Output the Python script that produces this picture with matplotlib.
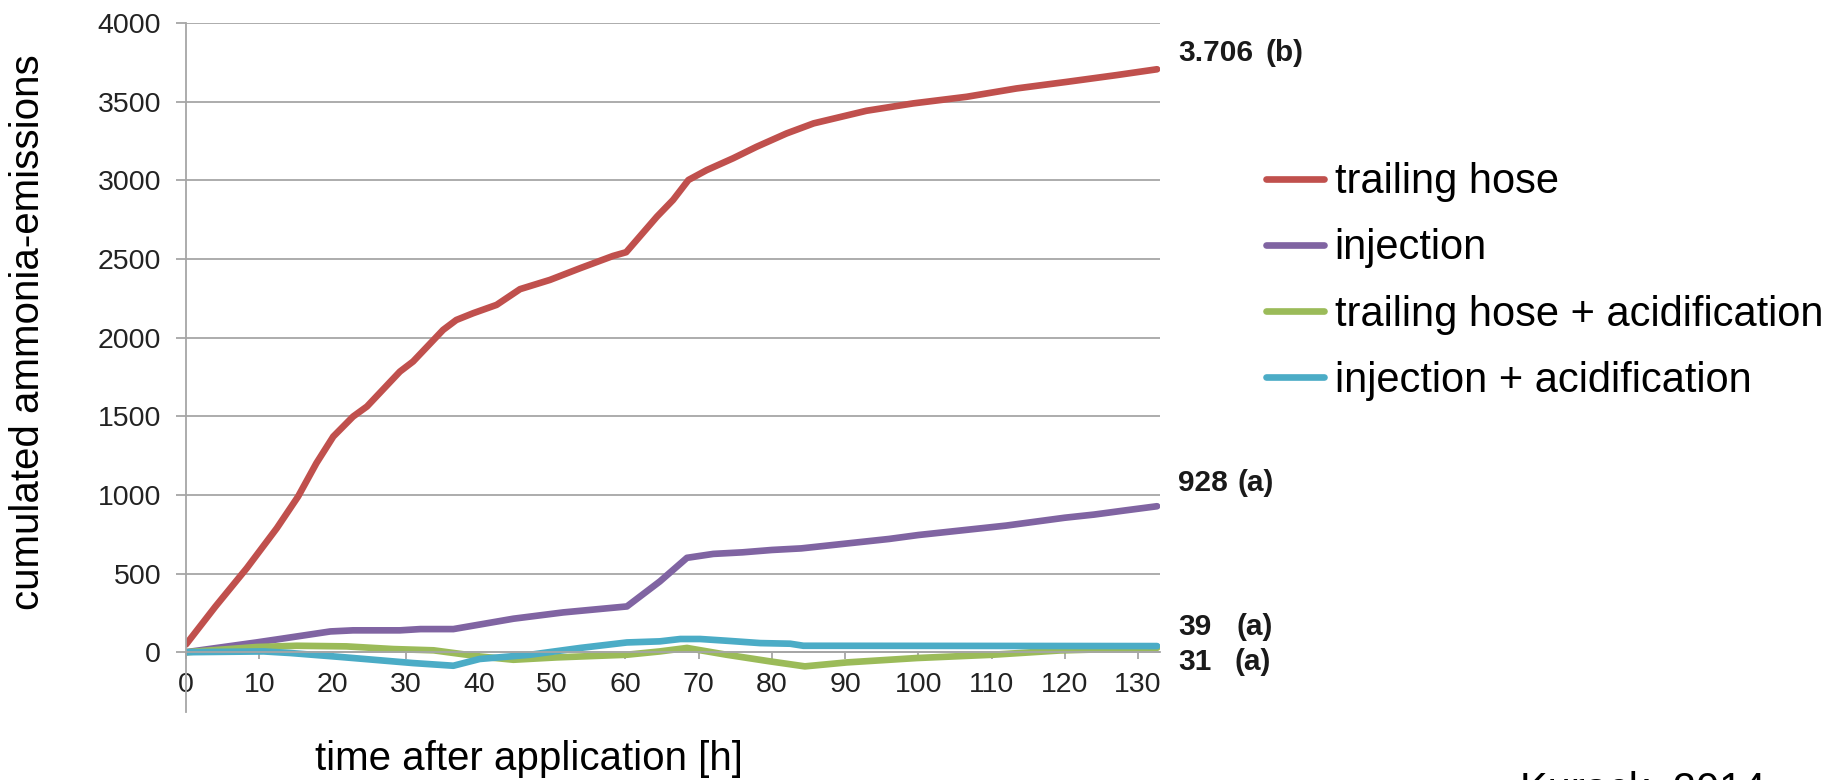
import numpy as np
from matplotlib import pyplot as plt

plt.rcParams['font.family'] = ['Liberation Sans', 'DejaVu Sans']

# trailing hose
th_t = [0, 4, 8.3, 12.4, 15.3, 17.8, 20.1, 22.8, 24.7, 29.2, 31, 35.1, 36.9, 39.2, 42.4,
        45.6, 49.7, 53.8, 58.3, 60.1, 64.3, 66.5, 68.6, 71.1, 74.7, 77.9, 82, 85.7, 92.9,
        99.3, 106.6, 113.4, 120.3, 127.1, 132.6]
th_v = [50, 290, 535, 789, 990, 1202, 1371, 1498, 1562, 1784, 1848, 2049, 2112, 2155, 2208,
        2308, 2367, 2441, 2519, 2543, 2769, 2875, 3002, 3065, 3140, 3213, 3298, 3362, 3442,
        3489, 3531, 3584, 3626, 3669, 3706]

# injection
inj_t = [0, 9.6, 12.8, 19.7, 22.8, 29.2, 32, 36.5, 44.7, 51.5, 60.2, 64.7, 68.4, 72, 76, 80,
         84, 88, 92, 96, 100, 104, 108, 112, 116, 120, 124, 128, 132.6]
inj_v = [0, 62, 84, 132, 139, 139, 147, 147, 213, 253, 291, 450, 600, 625, 635, 650,
         660, 680, 700, 720, 745, 765, 785, 805, 830, 855, 875, 900, 928]

# trailing hose + acidification
tha_t = [0, 9.6, 15.1, 21.9, 28.3, 33.8, 40.1, 44.7, 50.6, 60.2, 64.7, 68.4, 73.8, 79.7,
         84.5, 90.2, 99.8, 110.2, 119.3, 132.6]
tha_v = [0, 33, 41, 37, 20, 12, -27, -48, -33, -16, 5, 27, -16, -58, -90, -65, -37, -16, 11, 28]

# injection + acidification
inja_t = [0, 10.6, 14.2, 21, 31, 36.5, 40.1, 47, 53.8, 60.2, 64.7, 67.5, 70.2, 73.8, 78.4,
          82.5, 84.3, 132.6]
inja_v = [0, 5, -5, -30, -69, -86, -43, -16, 27, 62, 69, 84, 84, 73, 58, 54, 41, 39]

labels = ['trailing hose', 'injection', 'trailing hose + acidification', 'injection + acidification']
colors = ['#C0504D', '#8064A2', '#9BBB59', '#4BACC6']
end_values = ['3.706', '928', '39', '31']
end_groups = ['(b)', '(a)', '(a)', '(a)']
end_y = [3810, 1076, 158, -63]
group_x = [147.4, 143.6, 143.4, 143.2]

fig = plt.figure(figsize=(18.46, 7.8), dpi=100)
ax = fig.add_axes([0.1008, 0.0872, 0.5276, 0.8833])

ax.plot(th_t, th_v, color=colors[0], linewidth=4.8, label=labels[0], solid_capstyle='round')
ax.plot(inj_t, inj_v, color=colors[1], linewidth=4.8, label=labels[1], solid_capstyle='round')
ax.plot(tha_t, tha_v, color=colors[2], linewidth=4.8, label=labels[2], solid_capstyle='round')
ax.plot(inja_t, inja_v, color=colors[3], linewidth=4.8, label=labels[3], solid_capstyle='round')

ax.set_xlim(0, 133)
ax.set_ylim(-380, 4000)
ax.set_yticks(np.arange(0, 4001, 500))
ax.set_xticks(np.arange(0, 131, 10))
ax.grid(axis='y', color='#A6A6A6', linewidth=1.3)
ax.set_axisbelow(True)

for s in ['top', 'right']:
    ax.spines[s].set_visible(False)
ax.spines['left'].set_color('#A6A6A6')
ax.spines['left'].set_linewidth(1.3)
ax.spines['bottom'].set_position(('data', 0))
ax.spines['bottom'].set_color('#A6A6A6')
ax.spines['bottom'].set_linewidth(1.3)

ax.tick_params(axis='y', direction='out', length=7, width=1.3, color='#A6A6A6',
               labelsize=20.5, labelcolor='#222222', pad=11)
ax.tick_params(axis='x', direction='out', length=5, width=1.3, color='#A6A6A6',
               labelsize=20.5, labelcolor='#222222', pad=9)

for i in range(4):
    ax.text(135.5, end_y[i], end_values[i], fontsize=21.5, fontweight='bold',
            color='#1a1a1a', va='center', ha='left', clip_on=False)
    ax.text(group_x[i], end_y[i], end_groups[i], fontsize=21.5, fontweight='bold',
            color='#1a1a1a', va='center', ha='left', clip_on=False)

fig.text(0.0152, 0.574, 'cumulated ammonia-emissions', rotation=90, fontsize=29,
         ha='center', va='center')
fig.text(0.2866, 0.027, 'time after application [h]', fontsize=29, ha='center', va='center')
fig.text(0.8234, -0.028, 'Kurack, 2014', fontsize=30, ha='left', va='baseline')

fig.legend(loc='center left', bbox_to_anchor=(0.6858, 0.639), frameon=False,
           fontsize=30, handlelength=1.4, handletextpad=0.25, labelspacing=0.63,
           borderpad=0, borderaxespad=0)

plt.savefig('out.png', dpi=100)
